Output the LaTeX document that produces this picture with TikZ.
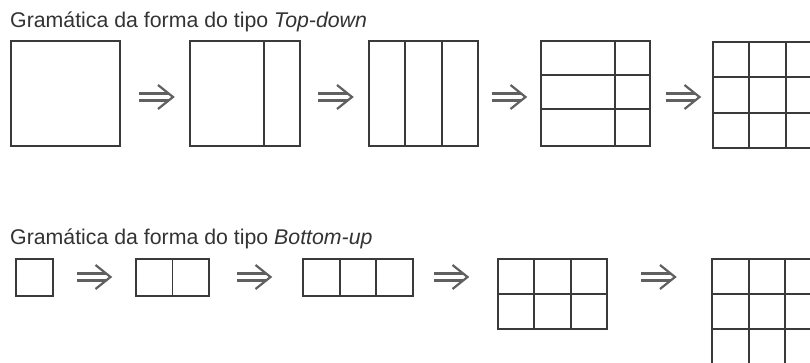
\documentclass[tikz,border=0pt]{standalone}
\usepackage{fontspec}
\setmainfont{Liberation Sans}
\usetikzlibrary{calc}
\definecolor{linecol}{HTML}{3A3A3A}
\definecolor{arrcol}{HTML}{606060}
\definecolor{txtcol}{HTML}{333333}
\begin{document}
\begin{tikzpicture}[x=1pt,y=-1pt,
  box/.style={draw=linecol, line width=1.8pt, inner sep=0pt, outer sep=0pt, anchor=north west},
  div/.style={draw=linecol, line width=1.8pt},
  title/.style={anchor=base west, inner sep=0pt, text=txtcol, font=\fontsize{21.3}{25}\selectfont},
  arrline/.style={draw=arrcol, line width=2.2pt},
  imp/.pic={
    \draw[arrline] (-17,-3.5) -- (12.6,-3.5) (-17,3.5) -- (12.6,3.5);
    \draw[arrline, line join=miter] (2,-12) -- (17,0) -- (2,12);
  }]
\clip (0,0) rectangle (810,362);
\fill[white] (0,0) rectangle (810,362);

% titles
\node[title] (titletop) at (10,27) {Gramática da forma do tipo \textit{Top-down}};
\node[title] (titlebot) at (10,244) {Gramática da forma do tipo \textit{Bottom-up}};

% ---- top row (top-down)
\node[box, minimum width=109pt, minimum height=105pt] (t1) at (11,41) {};
\node[box, minimum width=110pt, minimum height=105pt] (t2) at (190,41) {};
\draw[div] ($(t2.north west)!0.673!(t2.north east)$) -- ($(t2.south west)!0.673!(t2.south east)$);
\node[box, minimum width=109pt, minimum height=105pt] (t3) at (369,41) {};
\foreach \f in {0.3333,0.6667}{
  \draw[div] ($(t3.north west)!\f!(t3.north east)$) -- ($(t3.south west)!\f!(t3.south east)$);}
\node[box, minimum width=109pt, minimum height=105pt] (t4) at (541,41) {};
\draw[div] ($(t4.north west)!0.68!(t4.north east)$) -- ($(t4.south west)!0.68!(t4.south east)$);
\foreach \f in {0.3238,0.6476}{
  \draw[div] ($(t4.north west)!\f!(t4.south west)$) -- ($(t4.north east)!\f!(t4.south east)$);}
\node[box, minimum width=109pt, minimum height=106pt] (t5) at (713,42) {};
\foreach \f in {0.3333,0.6667}{
  \draw[div] ($(t5.north west)!\f!(t5.north east)$) -- ($(t5.south west)!\f!(t5.south east)$);
  \draw[div] ($(t5.north west)!\f!(t5.south west)$) -- ($(t5.north east)!\f!(t5.south east)$);}

\pic at (156,97) {imp};
\pic at (335,97) {imp};
\pic at (508.5,97) {imp};
\pic at (682.5,97) {imp};

% ---- bottom row (bottom-up)
\node[box, minimum width=37pt, minimum height=37pt] (b1) at (16,259) {};
\node[box, minimum width=73pt, minimum height=37pt] (b2) at (136,259) {};
\draw[div] (b2.north) -- (b2.south);
\node[box, minimum width=110pt, minimum height=37pt] (b3) at (303,259) {};
\foreach \f in {0.3333,0.6667}{
  \draw[div] ($(b3.north west)!\f!(b3.north east)$) -- ($(b3.south west)!\f!(b3.south east)$);}
\node[box, minimum width=109pt, minimum height=70pt] (b4) at (498,259) {};
\foreach \f in {0.3333,0.6667}{
  \draw[div] ($(b4.north west)!\f!(b4.north east)$) -- ($(b4.south west)!\f!(b4.south east)$);}
\draw[div] (b4.west) -- (b4.east);
\node[box, minimum width=110pt, minimum height=105pt] (b5) at (712,259) {};
\foreach \f in {0.3333,0.6667}{
  \draw[div] ($(b5.north west)!\f!(b5.north east)$) -- ($(b5.south west)!\f!(b5.south east)$);
  \draw[div] ($(b5.north west)!\f!(b5.south west)$) -- ($(b5.north east)!\f!(b5.south east)$);}

\pic at (93.5,277) {imp};
\pic at (253.5,277) {imp};
\pic at (450.5,277) {imp};
\pic at (658,277) {imp};
\end{tikzpicture}
\end{document}
